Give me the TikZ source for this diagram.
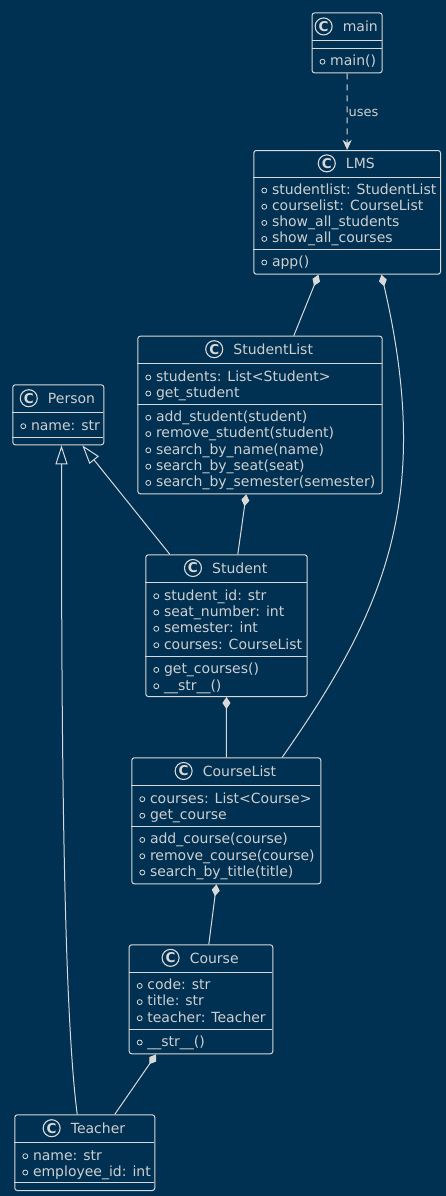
\documentclass[tikz,border=0pt]{standalone}
\usepackage{fontspec}
\setmainfont{DejaVu Sans}
\usetikzlibrary{arrows.meta,calc}
\definecolor{bg}{HTML}{003152}
\definecolor{fg}{HTML}{D9D9D9}
\definecolor{txt}{HTML}{CFCFCF}
\tikzset{
  clsbox/.style={draw=fg, line width=1pt, rounded corners=2.5pt, inner sep=0pt, fill=bg},
  sepline/.style={draw=fg, line width=1pt},
  ctitle/.style={inner sep=0pt, text=txt, font=\fontsize{14}{16}\selectfont, text height=10pt, text depth=0pt, anchor=center},
  icon/.style={circle, draw=fg, line width=1.1pt, minimum size=17pt, inner sep=0pt, text=fg, font=\bfseries\fontsize{13.5}{14}\selectfont},
  member/.style={inner sep=0pt, text=txt, font=\fontsize{14}{16}\selectfont, text height=10pt, text depth=0pt, anchor=west},
  marker/.style={draw=fg, line width=0.8pt},
  link/.style={draw=fg, line width=1pt},
  comp/.style={link, {Diamond[length=12pt,width=8pt,fill=fg]}-},
  inherit/.style={link, {Triangle[length=19pt,width=12pt,fill=bg]}-},
  dep/.style={link, dash pattern=on 6pt off 5pt, -{Stealth[length=10pt,width=9pt,inset=3pt]}},
  lbl/.style={inner sep=0pt, text=txt, font=\fontsize{13}{15}\selectfont, text height=9pt, text depth=0pt}
}
% #1 name, #2 L, #3 R, #4 T, #5 D1, #6 D2, #7 B, #8 title
\newcommand\mkclass[8]{%
  \node[clsbox, minimum width={#3-#2}, minimum height={#7-#4}, anchor=north west] (#1) at (#2,#4) {};
  \draw[sepline] (#2,#5) -- (#3,#5);
  \draw[sepline] (#2,#6) -- (#3,#6);
  \node[ctitle] (#1-title) at ({(#2+#3)/2+13.7},{(#4+#5)/2}) {#8};
  \node[icon] (#1-icon) at ([xshift=-19pt,yshift=0.3pt]#1-title.west) {C};
}
% #1 name, #2 L, #3 y, #4 text
\newcommand\mem[4]{%
  \draw[marker] ({#2+11},{#3+1.2}) circle[radius=2.5pt];
  \node[member] (#1) at ({#2+18.5},#3) {#4};
}
\begin{document}
\begin{tikzpicture}[x=1pt,y=-1pt]
\fill[bg] (0,0) rectangle (446,1196);
\useasboundingbox (0,0) rectangle (446,1196);

% main
\mkclass{main}{311.5}{381.7}{12.5}{41}{49}{72.3}{main}
\mem{main-m1}{311.5}{60.5}{main()}

% LMS
\mkclass{lms}{253.3}{440}{150}{177.3}{249.3}{273.7}{LMS}
\mem{lms-a1}{253.3}{189.3}{studentlist: StudentList}
\mem{lms-a2}{253.3}{205.5}{courselist: CourseList}
\mem{lms-a3}{253.3}{221.7}{show\_all\_students}
\mem{lms-a4}{253.3}{237.7}{show\_all\_courses}
\mem{lms-m1}{253.3}{261.3}{app()}

% StudentList
\mkclass{slist}{137.3}{381.7}{335.7}{363.3}{404.7}{493.3}{StudentList}
\mem{slist-a1}{137.3}{376.3}{students: List<Student>}
\mem{slist-a2}{137.3}{392.3}{get\_student}
\mem{slist-m1}{137.3}{416.5}{add\_student(student)}
\mem{slist-m2}{137.3}{432.8}{remove\_student(student)}
\mem{slist-m3}{137.3}{449.1}{search\_by\_name(name)}
\mem{slist-m4}{137.3}{465.4}{search\_by\_seat(seat)}
\mem{slist-m5}{137.3}{481.7}{search\_by\_semester(semester)}

% Person
\mkclass{person}{12.3}{103.3}{384.3}{412.7}{437.3}{444.3}{Person}
\mem{person-a1}{12.3}{425}{name: str}

% Student
\mkclass{student}{145.3}{306.7}{554.3}{582.3}{656.7}{696}{Student}
\mem{student-a1}{145.3}{595}{student\_id: str}
\mem{student-a2}{145.3}{611.3}{seat\_number: int}
\mem{student-a3}{145.3}{627.6}{semester: int}
\mem{student-a4}{145.3}{644}{courses: CourseList}
\mem{student-m1}{145.3}{668.7}{get\_courses()}
\mem{student-m2}{145.3}{685}{\_\_str\_\_()}

% CourseList
\mkclass{clist}{131.3}{320.3}{757.3}{785.3}{826.3}{883.3}{CourseList}
\mem{clist-a1}{131.3}{798}{courses: List<Course>}
\mem{clist-a2}{131.3}{814.5}{get\_course}
\mem{clist-m1}{131.3}{838.7}{add\_course(course)}
\mem{clist-m2}{131.3}{855}{remove\_course(course)}
\mem{clist-m3}{131.3}{871.3}{search\_by\_title(title)}

% Course
\mkclass{course}{128.7}{272.3}{944.3}{972}{1029.3}{1053.3}{Course}
\mem{course-a1}{128.7}{984.7}{code: str}
\mem{course-a2}{128.7}{1000.9}{title: str}
\mem{course-a3}{128.7}{1017}{teacher: Teacher}
\mem{course-m1}{128.7}{1041.3}{\_\_str\_\_()}

% Teacher
\mkclass{teacher}{14.3}{154.3}{1114.3}{1142.7}{1182}{1190}{Teacher}
\mem{teacher-a1}{14.3}{1155}{name: str}
\mem{teacher-a2}{14.3}{1171.3}{employee\_id: int}

% connectors
\draw[dep] (main.south) -- node[lbl, anchor=west, xshift=1pt] (uses) {uses} (lms.north);
\draw[comp] ([xshift=-28.65pt]lms.south) -- ([xshift=33.8pt]slist.north);
\draw[comp] ([xshift=34.35pt]lms.south) .. controls +(51.8,224) and +(103.3,-147.4) .. ([xshift=55.9pt]clist.north);
\draw[comp] ([xshift=-13.8pt]slist.south) -- ([xshift=11.3pt]student.north);
\draw[inherit] ([xshift=24pt]person.south) -- ([xshift=-56.7pt]student.north);
\draw[inherit] ([xshift=3.2pt]person.south) .. controls +(0,256) and +(-14.7,-114) .. ([xshift=-7.6pt]teacher.north);
\draw[comp] (student.south) -- (clist.north);
\draw[comp] ([xshift=-9.8pt]clist.south) -- ([xshift=7.8pt]course.north);
\draw[comp] ([xshift=-44.8pt]course.south) -- ([xshift=30pt]teacher.north);
\end{tikzpicture}
\end{document}
